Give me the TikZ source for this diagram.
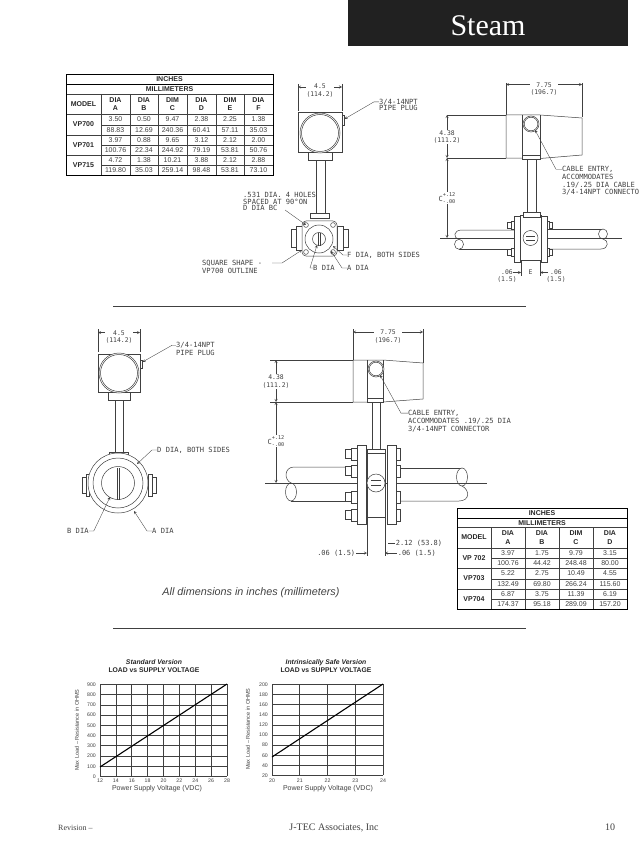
\documentclass[tikz,border=0pt]{standalone}
\usepackage{fontspec}
\usepackage{xcolor}
\setmainfont{Liberation Serif}
\setsansfont{Liberation Sans}
\newfontfamily\cadfont{DejaVu Sans Mono}
\definecolor{ink}{gray}{0.25}
\definecolor{header}{gray}{0.13}
\tikzset{
    part/.style={draw=ink, line width=0.5pt, fill=white},
    leader/.style={draw=ink, line width=0.35pt, ->, >=stealth},
    dimline/.style={draw=ink, line width=0.35pt, <->, >=stealth},
    extline/.style={draw=ink, line width=0.4pt},
    cadtext/.style={text=ink, inner sep=0pt, anchor=west, align=left, font=\cadfont\fontsize{7.1}{7.7}\selectfont},
    dimtext/.style={text=ink, fill=white, inner sep=0.6pt, align=center, font=\cadfont\fontsize{6.4}{7.6}\selectfont},
    ctext/.style={text=ink, fill=white, inner sep=0.6pt, font=\cadfont\fontsize{7}{7}\selectfont},
    tline/.style={draw=ink, line width=0.6pt},
    tframe/.style={draw=black, line width=0.9pt},
    tcell/.style={text=ink, inner sep=0pt, font=\sffamily\fontsize{7}{7}\selectfont},
    thead/.style={text=black!85, inner sep=0pt, align=center, font=\sffamily\bfseries\fontsize{7}{8.4}\selectfont},
    gridline/.style={draw=black!75, line width=0.7pt},
    loadline/.style={draw=black, line width=1.1pt},
    ticktext/.style={text=ink, inner sep=0pt, font=\sffamily\fontsize{5.2}{6}\selectfont},
    axistext/.style={text=ink, inner sep=0pt, font=\sffamily\fontsize{7}{8}\selectfont},
    ytext/.style={text=ink, inner sep=0pt, rotate=90, font=\sffamily\fontsize{5.5}{6}\selectfont},
    charttitle/.style={text=black!85, inner sep=0pt, align=center, font=\sffamily\bfseries\fontsize{6.8}{8.2}\selectfont},
    footertext/.style={text=ink, inner sep=0pt}
}
\newcommand{\ctol}{C\raisebox{-2pt}{\shortstack[l]{\fontsize{5.2}{5.2}\selectfont +.12\\\fontsize{5.2}{5.2}\selectfont -.00}}}
\begin{document}
\begin{tikzpicture}[x=1pt, y=-1pt]
            \useasboundingbox (0,0) rectangle (642,842);
            \fill[header] (348,0) rectangle (628,46);
            \node[text=white, inner sep=0pt, anchor=base, font=\fontsize{30}{31}\selectfont] (steamtitle) at (488,36) {Steam};

            \draw[tline] (66,94) -- (273,94);
            \draw[tline] (66,114) -- (273,114);
            \draw[tline] (66,135) -- (273,135);
            \draw[tline] (66,155) -- (273,155);
            \draw[tline] (101,125) -- (273,125);
            \draw[tline] (101,145) -- (273,145);
            \draw[tline] (101,165) -- (273,165);
            \foreach \x in {101,130,158,187,216,244}
                \draw[tline] (\x,94) -- (\x,175);
            \draw[tframe] (66,84) -- (273,84);
            \draw[tframe] (66,74) rectangle (273,175);
            \node[thead] (inchesa) at (169.5,79) {INCHES};
            \node[thead] (mma) at (169.5,89.3) {MILLIMETERS};
            \node[thead] (modela) at (83.5,104) {MODEL};
            \foreach \x/\t/\u [count=\n] in {115.5/DIA/A,144/DIA/B,172.5/DIM/C,201.5/DIA/D,230/DIM/E,258.5/DIA/F}
                \node[thead] (heada\n) at (\x,104) {\t\\\u};
            \node[thead] (vp700) at (83.5,124.5) {VP700};
            \node[thead] (vp701) at (83.5,145) {VP701};
            \node[thead] (vp715) at (83.5,165) {VP715};
            \foreach \y/\a/\b/\c/\d/\e/\f [count=\n] in {
                119.5/3.50/0.50/9.47/2.38/2.25/1.38,
                130/88.83/12.69/240.36/60.41/57.11/35.03,
                140/3.97/0.88/9.65/3.12/2.12/2.00,
                150/100.76/22.34/244.92/79.19/53.81/50.76,
                160/4.72/1.38/10.21/3.88/2.12/2.88,
                170/119.80/35.03/259.14/98.48/53.81/73.10} {
                \node[tcell] (vala\n a) at (115.5,\y) {\a};
                \node[tcell] (vala\n b) at (144,\y) {\b};
                \node[tcell] (vala\n c) at (172.5,\y) {\c};
                \node[tcell] (vala\n d) at (201.5,\y) {\d};
                \node[tcell] (vala\n e) at (230,\y) {\e};
                \node[tcell] (vala\n f) at (258.5,\y) {\f};
            }

            \draw[extline] (298,84) -- (298,111);
            \draw[extline] (342,84) -- (342,111);
            \draw[dimline] (298,87) -- (342,87);
            \node[dimtext] (widtha) at (320,90.5) {4.5\\(114.2)};
            \draw[part] (316,160) rectangle (325,214);
            \draw[part] (308,151) rectangle (332,160);
            \draw[part] (342,115) rectangle (344.5,125);
            \draw[part] (298,112) rectangle (342,152);
            \draw[part] (320,133) circle (20);
            \draw[part] (320,133) circle (18.5);
            \coordinate (plugtipa) at (344.5,119);
            \node[cadtext] (plugtxta) at (379,105) {3/4-14NPT\\[-1.2pt]PIPE PLUG};
            \draw[leader] ([yshift=-3pt]plugtxta.north west) -- ++(-5,0) -- (plugtipa);

            \draw[part] (291,229) rectangle (296,247);
            \draw[part] (296,226) rectangle (302,250);
            \draw[part] (343,229) rectangle (348,247);
            \draw[part] (337,226) rectangle (343,250);
            \draw[part] (310,213) rectangle (329,218);
            \draw[part, rounded corners=4pt] (302,221) rectangle (337,256);
            \draw[part] (319,239) circle (14);
            \draw[part] (319,239) circle (6.5);
            \draw[extline] (318,232.5) -- (318,245.5);
            \draw[extline] (320,232.5) -- (320,245.5);
            \foreach \x/\y [count=\n] in {306/225,333/225,306/252,333/252}
                \draw[part] (\x,\y) circle (2.4) coordinate (hole\n);
            \node[cadtext] (holestxt) at (243,201.5) {.531 DIA. 4 HOLES\\[-1pt]SPACED AT 90\textdegree ON\\[-1pt]D DIA BC};
            \coordinate (holesbend) at (285,210);
            \draw[leader] (holesbend) -- (hole1);
            \node[cadtext] (squaretxt) at (202,267) {SQUARE SHAPE -\\VP700 OUTLINE};
            \coordinate (squarestart) at (272,263);
            \coordinate (squarebend) at (282,263);
            \coordinate (squaretip) at (302,250);
            \draw[leader] (squarestart) -- (squarebend) -- (squaretip);
            \node[cadtext] (fdiatxt) at (347,255) {F DIA, BOTH SIDES};
            \coordinate (fdiatip) at (333,246);
            \draw[leader] (fdiatxt.west) -- ++(-4,0) -- (fdiatip);
            \node[cadtext] (bdiatxt) at (313,268) {B DIA};
            \coordinate (bdiatip) at (317,245);
            \draw[leader] (bdiatxt.west) -- ++(-3,0) -- (bdiatip);
            \node[cadtext] (adiatxt) at (347,268) {A DIA};
            \coordinate (adiatip) at (331,251);
            \draw[leader] (adiatxt.west) -- ++(-5,0) -- (adiatip);

            \draw[extline] (506,83) -- (506,115);
            \draw[extline] (582,83) -- (582,117);
            \draw[dimline] (506,84.5) -- (582,84.5);
            \node[dimtext] (widthb) at (544,89) {7.75\\(196.7)};
            \draw[extline] (447,115) -- (506,115);
            \draw[extline] (447,158) -- (506,158);
            \draw[dimline] (447,115) -- (447,158);
            \draw[dimline] (447,158) -- (447,238);
            \node[dimtext] (heightb) at (447,137) {4.38\\(111.2)};
            \node[ctext] (ctolb) at (447,198) {\ctol};
            \draw[part] (506,115) -- (540,115) -- (582,118) -- (582,155) -- (540,158.5) -- (506,158) -- cycle;
            \draw[extline] (522,115) -- (522,158.5);
            \draw[extline] (540,115) -- (540,158.5);
            \draw[part] (522,155) rectangle (540,159);
            \draw[part] (527,159) rectangle (536,212);
            \draw[part] (531,124) circle (8);
            \draw[part] (531,124) circle (6.8);
            \node[cadtext] (cabletxtb) at (562,181) {CABLE ENTRY,\\ACCOMMODATES\\.19/.25 DIA CABLE\\3/4-14NPT CONNECTO};
            \coordinate (cabletipb) at (535,130);
            \draw[leader] ([yshift=-3pt]cabletxtb.north west) -- ++(-6,0) -- (cabletipb);

            \draw[part, fill=none] (514,230) -- (462,230) .. controls (453,230) and (453,238) .. (459,239.5);
            \draw[part, fill=none] (459,249.3) -- (514,249.3);
            \draw[part] (459,244.3) ellipse (4.5 and 5);
            \draw[part, fill=none] (547,229) -- (603,229);
            \draw[part, fill=none] (547,249) -- (601,249) .. controls (609,249) and (609,240) .. (603,239);
            \draw[part] (603,234) ellipse (4.5 and 5);
            \draw[extline] (440,238) -- (622,238);
            \foreach \y in {225,252} {
                \draw[part] (507,\y-3) rectangle (511,\y+3);
                \draw[part] (511,\y-4) rectangle (514,\y+4);
                \draw[part] (547,\y-4) rectangle (549.5,\y+4);
                \draw[part] (549.5,\y-3) rectangle (552,\y+3);
            }
            \draw[part] (520,215) rectangle (541,260);
            \draw[part] (514,216) rectangle (520,262);
            \draw[part] (541,216) rectangle (547,262);
            \draw[part] (523,212) rectangle (540,217);
            \draw[part] (530.5,238) circle (7.5);
            \draw[ink, line width=0.9pt] (526,236) -- (535,236);
            \draw[ink, line width=0.9pt] (526,240) -- (535,240);
            \draw[extline] (521,260) -- (521,276);
            \draw[extline] (540,260) -- (540,276);
            \draw[leader] (513,272.5) -- (521,272.5);
            \draw[leader] (548,272.5) -- (540,272.5);
            \node[dimtext, fill=none] (gapleftb) at (507,276) {.06\\(1.5)};
            \node[dimtext] (gapmidb) at (530.5,272.5) {E};
            \node[dimtext, fill=none] (gaprightb) at (556,276) {.06\\(1.5)};

            \draw[extline] (113,306) -- (526,306);

            \draw[extline] (98,329) -- (98,352);
            \draw[extline] (140,329) -- (140,352);
            \draw[dimline] (98,332.5) -- (140,332.5);
            \node[dimtext] (widthc) at (119,337) {4.5\\(114.2)};
            \draw[part] (115,400) rectangle (123,453);
            \draw[part] (108,392) rectangle (130,400);
            \draw[part] (140,360) rectangle (142.5,368);
            \draw[part] (98,354) rectangle (140,392);
            \draw[part] (119,373) circle (20);
            \draw[part] (119,373) circle (18.5);
            \coordinate (plugtipc) at (142.5,362);
            \node[cadtext] (plugtxtc) at (176,349) {3/4-14NPT\\PIPE PLUG};
            \draw[leader] ([yshift=-3pt]plugtxtc.north west) -- ++(-4,0) -- (plugtipc);
            \draw[part] (82,477) rectangle (86,493);
            \draw[part] (86,474) rectangle (89,496);
            \draw[part] (152,477) rectangle (156,493);
            \draw[part] (148,474) rectangle (152,496);
            \draw[part] (109,452) rectangle (128,456);
            \draw[part] (118,483) circle (30);
            \draw[part] (118,483) circle (25);
            \draw[part] (118,483) circle (16.5);
            \draw[extline] (117.5,468) -- (117.5,500);
            \draw[extline] (119.5,468) -- (119.5,500);
            \node[cadtext] (ddiatxt) at (157,450) {D DIA, BOTH SIDES};
            \coordinate (ddiatip) at (137,464);
            \draw[leader] (ddiatxt.west) -- ++(-5,0) -- (ddiatip);
            \node[cadtext] (bdiatxtc) at (67,531) {B DIA};
            \coordinate (bdiatipc) at (110,497);
            \draw[leader] (bdiatxtc.east) -- ++(5,0) -- (bdiatipc);
            \node[cadtext] (adiatxtc) at (152,531) {A DIA};
            \coordinate (adiatipc) at (134,511);
            \draw[leader] (adiatxtc.west) -- ++(-5,0) -- (adiatipc);

            \draw[extline] (353,329) -- (353,360);
            \draw[extline] (423,329) -- (423,363);
            \draw[dimline] (353,332) -- (423,332);
            \node[dimtext] (widthd) at (388,336.5) {7.75\\(196.7)};
            \draw[extline] (270,360) -- (353,360);
            \draw[extline] (270,402) -- (353,402);
            \draw[dimline] (276,360) -- (276,402);
            \draw[dimline] (276,402) -- (276,483);
            \node[dimtext] (heightd) at (276,381.5) {4.38\\(111.2)};
            \node[ctext] (ctold) at (276,441) {\ctol};
            \draw[part] (353,360) -- (383,360) -- (423,363) -- (423,399) -- (383,402) -- (353,402) -- cycle;
            \draw[extline] (367,360) -- (367,402);
            \draw[extline] (383,360) -- (383,402);
            \draw[part] (367,398) rectangle (383,402);
            \draw[part] (372,402) rectangle (380,451);
            \draw[part] (376,369) circle (8);
            \draw[part] (376,369) circle (6.8);
            \node[cadtext] (cabletxtd) at (408,421) {CABLE ENTRY,\\ACCOMMODATES .19/.25 DIA\\3/4-14NPT CONNECTOR};
            \coordinate (cabletipd) at (380,375);
            \draw[leader] ([yshift=-3pt]cabletxtd.north west) -- ++(-7,0) -- (cabletipd);

            \draw[part, fill=none] (357,467) -- (294,467) .. controls (284,467) and (284,480) .. (291,483);
            \draw[part, fill=none] (291,501) -- (357,501);
            \draw[part] (291,492) ellipse (5.5 and 9);
            \draw[part, fill=none] (396,468) -- (462,468);
            \draw[part, fill=none] (396,501) -- (459,501) .. controls (470,501) and (470,490) .. (462,486);
            \draw[part] (462,477) ellipse (5.5 and 9);
            \draw[extline] (265,483) -- (487,483);
            \foreach \y in {454,471,497,515} {
                \draw[part] (345,\y-4.5) rectangle (351,\y+4.5);
                \draw[part] (351,\y-6) rectangle (357,\y+6);
                \draw[part] (396,\y-6) rectangle (400,\y+6);
            }
            \draw[extline] (367,517) -- (367,556);
            \draw[extline] (385,517) -- (385,556);
            \draw[part] (367,452) rectangle (385,517);
            \draw[part] (357,445) rectangle (366,524);
            \draw[part] (387,445) rectangle (396,524);
            \draw[part] (367,449) rectangle (385,453);
            \draw[part] (376,483) circle (9);
            \draw[ink, line width=1pt] (371,480.5) -- (381,480.5);
            \draw[ink, line width=1pt] (371,485.5) -- (381,485.5);
            \node[dimtext, fill=none, anchor=west, font=\cadfont\fontsize{7}{7.6}\selectfont] (flangetxt) at (395,543) {2.12 (53.8)};
            \draw[extline] (flangetxt.west) -- ++(-7,0);
            \node[dimtext, fill=none, anchor=east, font=\cadfont\fontsize{7}{7.6}\selectfont] (gapleftd) at (356,553) {.06 (1.5)};
            \draw[leader] (gapleftd.east) -- (367,553);
            \node[dimtext, fill=none, anchor=west, font=\cadfont\fontsize{7}{7.6}\selectfont] (gaprightd) at (397,553) {.06 (1.5)};
            \draw[leader] (gaprightd.west) -- (385,553);

            \draw[tline] (457,527) -- (627,527);
            \draw[tline] (457,548) -- (627,548);
            \draw[tline] (457,568) -- (627,568);
            \draw[tline] (457,589) -- (627,589);
            \draw[tline] (491,558) -- (627,558);
            \draw[tline] (491,579) -- (627,579);
            \draw[tline] (491,599) -- (627,599);
            \foreach \x in {491,525,559,593}
                \draw[tline] (\x,527) -- (\x,609);
            \draw[tframe] (457,518) -- (627,518);
            \draw[tframe] (457,508) rectangle (627,609);
            \node[thead] (inchesb) at (542,513) {INCHES};
            \node[thead] (mmb) at (542,522.7) {MILLIMETERS};
            \node[thead] (modelb) at (474,537.5) {MODEL};
            \foreach \x/\t/\u [count=\n] in {508/DIA/A,542/DIA/B,576/DIM/C,610/DIA/D}
                \node[thead] (headb\n) at (\x,537.5) {\t\\\u};
            \node[thead] (vp702) at (474,558) {VP 702};
            \node[thead] (vp703) at (474,578.5) {VP703};
            \node[thead] (vp704) at (474,599) {VP704};
            \foreach \y/\a/\b/\c/\d [count=\n] in {
                553/3.97/1.75/9.79/3.15,
                563/100.76/44.42/248.48/80.00,
                573.5/5.22/2.75/10.49/4.55,
                584/132.49/69.80/266.24/115.60,
                594/6.87/3.75/11.39/6.19,
                604/174.37/95.18/289.09/157.20} {
                \node[tcell] (valb\n a) at (508,\y) {\a};
                \node[tcell] (valb\n b) at (542,\y) {\b};
                \node[tcell] (valb\n c) at (576,\y) {\c};
                \node[tcell] (valb\n d) at (610,\y) {\d};
            }

            \node[text=ink, inner sep=0pt, font=\sffamily\itshape\fontsize{10.8}{12}\selectfont] (allnote) at (251,593) {All dimensions in inches (millimeters)};
            \draw[extline] (113,628) -- (526,628);

            \node[charttitle] (titlea) at (154,666) {\textit{Standard Version}\\LOAD vs SUPPLY VOLTAGE};
            \foreach \t [count=\i from 0, evaluate=\i as \x using 100+\i*15.875] in {12,14,16,18,20,22,24,26,28} {
                \draw[gridline] (\x,684) -- (\x,776);
                \node[ticktext] (xa\i) at (\x,781) {\t};
            }
            \foreach \t [count=\i from 0, evaluate=\i as \y using 684.6+\i*10.2] in {900,800,700,600,500,400,300,200,100,0} {
                \draw[gridline] (100,\y) -- (227,\y);
                \node[ticktext, anchor=east] (ya\i) at (96,\y) {\t};
            }
            \draw[loadline] (100,767) -- (227,684);
            \node[axistext] (xlabela) at (157,788.5) {Power Supply Voltage (VDC)};
            \node[ytext] (ylabela) at (77,730) {Max Load -- Resistance in OHMS};

            \node[charttitle] (titleb) at (326,666) {\textit{Intrinsically Safe Version}\\LOAD vs SUPPLY VOLTAGE};
            \foreach \t [count=\i from 0, evaluate=\i as \x using 272+\i*27.75] in {20,21,22,23,24} {
                \draw[gridline] (\x,684) -- (\x,775);
                \node[ticktext] (xb\i) at (\x,780.5) {\t};
            }
            \foreach \t [count=\i from 0, evaluate=\i as \y using 684.6+\i*10.1] in {200,180,160,140,120,100,80,60,40,20} {
                \draw[gridline] (272,\y) -- (383,\y);
                \node[ticktext, anchor=east] (yb\i) at (268,\y) {\t};
            }
            \draw[loadline] (272,757) -- (383,684);
            \node[axistext] (xlabelb) at (328,788.5) {Power Supply Voltage (VDC)};
            \node[ytext] (ylabelb) at (248,729) {Max Load -- Resistance in OHMS};

            \node[footertext, anchor=base west, font=\fontsize{8}{9}\selectfont] (revtxt) at (58,830) {Revision --};
            \node[footertext, anchor=base, font=\fontsize{10}{11}\selectfont] (companytxt) at (334,830) {J-TEC Associates, Inc};
            \node[footertext, anchor=base, font=\fontsize{10}{11}\selectfont] (pagenum) at (610,830) {10};
\end{tikzpicture}
\end{document}
